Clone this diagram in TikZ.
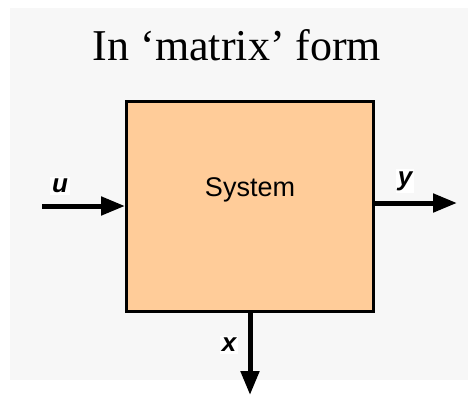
\documentclass[tikz,border=0pt]{standalone}
\usepackage{fontspec}
\setmainfont{Liberation Serif}
\setsansfont{Liberation Sans}
\usetikzlibrary{arrows.meta,positioning}
\definecolor{sysfill}{HTML}{FFCC99}
\definecolor{bgpanel}{HTML}{F7F7F7}

\begin{document}
\begin{tikzpicture}[x=1pt,y=-1pt,>={Triangle[length=24pt,width=18pt]}]
    % --- frame and panel ---
    \useasboundingbox (0,0) rectangle (468,396);
    \fill[bgpanel] (10,8) rectangle (468,380);
    \tikzset{
      sysbox/.style={draw=black,fill=sysfill,line width=3pt,
        minimum width=247pt,minimum height=210pt,inner sep=0pt},
      signal/.style={->,line width=5pt},
      siglabel/.style={fill=white,inner sep=2pt,
        font=\fontsize{26}{28}\selectfont\sffamily\bfseries\itshape}
    }
    % --- title ---
    \node[anchor=base,font=\fontsize{44}{48}\selectfont] (title) at (237,60)
      {In ‘matrix’ form};
    % --- block ---
    \node[sysbox] (sys) at (250,206.5) {};
    \node[font=\fontsize{27}{30}\selectfont\sffamily] (systext) at (250,190)
      {System};
    % --- signals ---
    \coordinate (uin) at (42,206);
    \coordinate (yout) at (457,203);
    \coordinate (xout) at (250,395);
    \draw[signal] (uin) -- (uin -| sys.west);
    \draw[signal] (yout -| sys.east) -- (yout);
    \draw[signal] (sys.south) -- (xout);
    \node[siglabel] (ulabel) at (60,186) {u};
    \node[siglabel] (ylabel) at (405,181) {y};
    \node[siglabel] (xlabel) at (229,345) {x};
  \end{tikzpicture}
\end{document}
